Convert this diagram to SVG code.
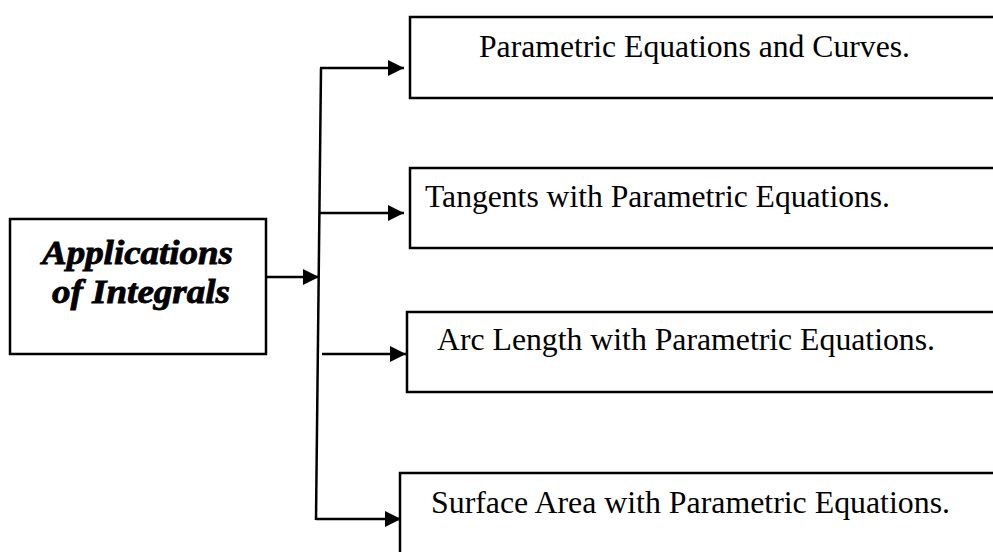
<svg xmlns="http://www.w3.org/2000/svg" width="993" height="552" viewBox="0 0 993 552">
<defs>
<style>
.box{fill:#fff;stroke:#000;stroke-width:2.5}
.lbl{font-family:"Liberation Serif","Times New Roman",serif;font-size:32px;fill:#000}
.ttl{font-family:"Liberation Serif","Times New Roman",serif;font-size:33px;font-weight:bold;font-style:italic;fill:#000;stroke:#000;stroke-width:0.8}
.con{stroke:#000;stroke-width:2.5;fill:none}
</style>
<marker id="ah" markerWidth="16" markerHeight="16" viewBox="0 0 16 16" refX="16" refY="8" orient="auto" markerUnits="userSpaceOnUse">
<path d="M0,0 L16,8 L0,16 Z" fill="#000"/>
</marker>
</defs>
<rect width="993" height="552" fill="#fff"/>
<g id="connectors">
<line class="con" x1="321" y1="68" x2="316" y2="520"/>
<line class="con" x1="266" y1="277" x2="319" y2="277" marker-end="url(#ah)"/>
<line class="con" x1="320" y1="68" x2="404" y2="68" marker-end="url(#ah)"/>
<line class="con" x1="320" y1="213" x2="404" y2="213" marker-end="url(#ah)"/>
<line class="con" x1="322" y1="354" x2="406" y2="354" marker-end="url(#ah)"/>
<line class="con" x1="316" y1="519" x2="401" y2="519" marker-end="url(#ah)"/>
</g>
<g id="root">
<rect class="box" x="10" y="219" width="256" height="135"/>
<text class="ttl" x="42" y="264" textLength="191" lengthAdjust="spacingAndGlyphs">Applications</text>
<text class="ttl" x="52" y="303" textLength="178" lengthAdjust="spacingAndGlyphs">of Integrals</text>
</g>
<g id="n1">
<rect class="box" x="410" y="17" width="600" height="81"/>
<text class="lbl" x="479" y="57" textLength="431" lengthAdjust="spacingAndGlyphs">Parametric Equations and Curves.</text>
</g>
<g id="n2">
<rect class="box" x="410" y="168" width="600" height="80"/>
<text class="lbl" x="425" y="207" textLength="465" lengthAdjust="spacingAndGlyphs">Tangents with Parametric Equations.</text>
</g>
<g id="n3">
<rect class="box" x="407" y="312" width="600" height="80"/>
<text class="lbl" x="437" y="350" textLength="498" lengthAdjust="spacingAndGlyphs">Arc Length with Parametric Equations.</text>
</g>
<g id="n4">
<rect class="box" x="400" y="473" width="600" height="100"/>
<text class="lbl" x="431" y="513" textLength="519" lengthAdjust="spacingAndGlyphs">Surface Area with Parametric Equations.</text>
</g>
</svg>
